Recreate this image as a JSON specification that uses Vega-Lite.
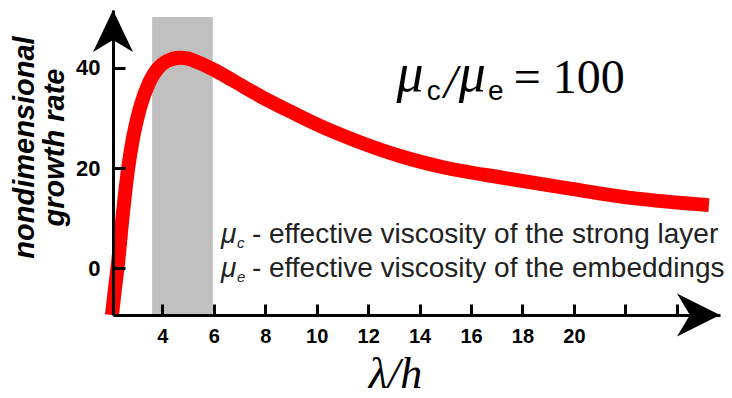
{
  "$schema": "https://vega.github.io/schema/vega-lite/v6.json",
  "width": 607,
  "height": 305,
  "autosize": {"type": "none"},
  "padding": {"left": 113, "top": 10, "right": 12, "bottom": 83},
  "background": "white",
  "config": {"view": {"stroke": null}},
  "datasets": {
    "curve": [
      {"lambda": 2.04, "rate": -9.3},
      {"lambda": 2.15, "rate": -4.3},
      {"lambda": 2.26, "rate": 0.3},
      {"lambda": 2.45, "rate": 10.2},
      {"lambda": 2.67, "rate": 20.0},
      {"lambda": 2.87, "rate": 26.3},
      {"lambda": 3.13, "rate": 32.0},
      {"lambda": 3.5, "rate": 37.2},
      {"lambda": 3.8, "rate": 39.7},
      {"lambda": 4.17, "rate": 41.3},
      {"lambda": 4.68, "rate": 42.0},
      {"lambda": 5.0, "rate": 41.8},
      {"lambda": 5.46, "rate": 40.9},
      {"lambda": 6.0, "rate": 39.6},
      {"lambda": 6.76, "rate": 37.4},
      {"lambda": 8.06, "rate": 33.6},
      {"lambda": 9.0, "rate": 31.2},
      {"lambda": 10.26, "rate": 28.1},
      {"lambda": 11.55, "rate": 25.4},
      {"lambda": 13.24, "rate": 22.4},
      {"lambda": 14.79, "rate": 20.3},
      {"lambda": 17.3, "rate": 18.0},
      {"lambda": 19.72, "rate": 16.0},
      {"lambda": 22.3, "rate": 14.0},
      {"lambda": 25.25, "rate": 12.6}
    ],
    "band": [{"x0": 3.6, "x1": 5.96, "y0": -9.3, "y1": 50.1}]
  },
  "layer": [
    {
      "data": {"name": "band"},
      "mark": {"type": "rect", "color": "#c0c0c0"},
      "encoding": {
        "x": {
          "field": "x0", "type": "quantitative",
          "scale": {"domain": [2.08, 25.68], "nice": false, "zero": false},
          "axis": {
            "values": [4, 6, 8, 10, 12, 14, 16, 18, 20, 22, 24],
            "labelExpr": "datum.value > 20 ? '' : datum.label",
            "domainColor": "black", "domainWidth": 3,
            "tickColor": "black", "tickWidth": 3, "tickSize": -11,
            "labelFont": "Liberation Sans", "labelFontWeight": "bold", "labelFontSize": 20,
            "labelColor": "black", "labelPadding": 22,
            "title": "λ/h", "titleFont": "Liberation Serif", "titleFontStyle": "italic",
            "titleFontWeight": "normal", "titleFontSize": 44, "titleColor": "black",
            "titleX": 282, "titleY": 72, "titleAlign": "center", "titleBaseline": "alphabetic",
            "grid": false, "zindex": 1
          }
        },
        "x2": {"field": "x1"},
        "y": {
          "field": "y0", "type": "quantitative",
          "scale": {"domain": [-9.3, 51.5], "nice": false, "zero": false},
          "axis": {
            "values": [0, 20, 40],
            "domainColor": "black", "domainWidth": 3,
            "tickColor": "black", "tickWidth": 3, "tickSize": -12,
            "labelFont": "Liberation Sans", "labelFontWeight": "bold", "labelFontSize": 22,
            "labelColor": "black", "labelPadding": 25,
            "title": ["nondimensional", "growth rate"],
            "titleFont": "Liberation Sans", "titleFontStyle": "italic", "titleFontWeight": "bold",
            "titleFontSize": 29, "titleLineHeight": 30, "titleColor": "black",
            "titleAngle": 270, "titleX": -80, "titleY": 137,
            "titleAlign": "center", "titleBaseline": "alphabetic",
            "grid": false, "zindex": 1
          }
        },
        "y2": {"field": "y1"}
      }
    },
    {
      "data": {"name": "curve"},
      "mark": {"type": "line", "color": "#ff0000", "strokeWidth": 14, "interpolate": "monotone", "strokeCap": "butt"},
      "encoding": {
        "x": {"field": "lambda", "type": "quantitative"},
        "y": {"field": "rate", "type": "quantitative"}
      }
    },
    {
      "data": {"values": [{}]},
      "mark": {"type": "point", "shape": "M0,0 L1,2.1 L0,1.5 L-1,2.1 Z", "size": 1600, "filled": true, "color": "black", "opacity": 1, "strokeWidth": 0},
      "encoding": {
        "x": {"datum": 2.08, "type": "quantitative"},
        "y": {"datum": 51.5, "type": "quantitative"}
      }
    },
    {
      "data": {"values": [{}]},
      "mark": {"type": "point", "shape": "M0,0 L-2,-1 L-1.4,0 L-2,1 Z", "size": 1849, "filled": true, "color": "black", "opacity": 1, "strokeWidth": 0},
      "encoding": {
        "x": {"datum": 25.68, "type": "quantitative"},
        "y": {"datum": -9.3, "type": "quantitative"}
      }
    },
    {
      "data": {"values": [{}]},
      "mark": {"type": "text", "text": "μ", "font": "Liberation Serif", "fontStyle": "italic", "fontSize": 54, "align": "left", "baseline": "alphabetic", "color": "black"},
      "encoding": {"x": {"datum": 13.1, "type": "quantitative"}, "y": {"datum": 35.36, "type": "quantitative"}}
    },
    {
      "data": {"values": [{}]},
      "mark": {"type": "text", "text": "c", "font": "Liberation Sans", "fontSize": 28, "align": "left", "baseline": "alphabetic", "color": "black"},
      "encoding": {"x": {"datum": 14.28, "type": "quantitative"}, "y": {"datum": 33.56, "type": "quantitative"}}
    },
    {
      "data": {"values": [{}]},
      "mark": {"type": "text", "text": "/", "font": "Liberation Serif", "fontStyle": "italic", "fontSize": 48, "align": "left", "baseline": "alphabetic", "color": "black"},
      "encoding": {"x": {"datum": 14.95, "type": "quantitative"}, "y": {"datum": 33.96, "type": "quantitative"}}
    },
    {
      "data": {"values": [{}]},
      "mark": {"type": "text", "text": "μ", "font": "Liberation Serif", "fontStyle": "italic", "fontSize": 54, "align": "left", "baseline": "alphabetic", "color": "black"},
      "encoding": {"x": {"datum": 15.52, "type": "quantitative"}, "y": {"datum": 35.36, "type": "quantitative"}}
    },
    {
      "data": {"values": [{}]},
      "mark": {"type": "text", "text": "e", "font": "Liberation Sans", "fontSize": 28, "align": "left", "baseline": "alphabetic", "color": "black"},
      "encoding": {"x": {"datum": 16.66, "type": "quantitative"}, "y": {"datum": 33.56, "type": "quantitative"}}
    },
    {
      "data": {"values": [{}]},
      "mark": {"type": "text", "text": "= 100", "font": "Liberation Serif", "fontSize": 48, "align": "left", "baseline": "alphabetic", "color": "black"},
      "encoding": {"x": {"datum": 17.66, "type": "quantitative"}, "y": {"datum": 34.96, "type": "quantitative"}}
    },
    {
      "data": {"values": [{}]},
      "mark": {"type": "text", "text": "μ", "font": "Liberation Sans", "fontStyle": "italic", "fontSize": 28, "align": "left", "baseline": "alphabetic", "color": "#222222"},
      "encoding": {"x": {"datum": 6.28, "type": "quantitative"}, "y": {"datum": 5.05, "type": "quantitative"}}
    },
    {
      "data": {"values": [{}]},
      "mark": {"type": "text", "text": "c", "font": "Liberation Sans", "fontStyle": "italic", "fontSize": 15, "align": "left", "baseline": "alphabetic", "color": "#222222"},
      "encoding": {"x": {"datum": 6.9, "type": "quantitative"}, "y": {"datum": 4.06, "type": "quantitative"}}
    },
    {
      "data": {"values": [{}]},
      "mark": {"type": "text", "text": "- effective viscosity of the strong layer", "font": "Liberation Sans", "fontSize": 28, "align": "left", "baseline": "alphabetic", "color": "#222222"},
      "encoding": {"x": {"datum": 7.48, "type": "quantitative"}, "y": {"datum": 5.05, "type": "quantitative"}}
    },
    {
      "data": {"values": [{}]},
      "mark": {"type": "text", "text": "μ", "font": "Liberation Sans", "fontStyle": "italic", "fontSize": 28, "align": "left", "baseline": "alphabetic", "color": "#222222"},
      "encoding": {"x": {"datum": 6.28, "type": "quantitative"}, "y": {"datum": -1.72, "type": "quantitative"}}
    },
    {
      "data": {"values": [{}]},
      "mark": {"type": "text", "text": "e", "font": "Liberation Sans", "fontStyle": "italic", "fontSize": 15, "align": "left", "baseline": "alphabetic", "color": "#222222"},
      "encoding": {"x": {"datum": 6.9, "type": "quantitative"}, "y": {"datum": -2.72, "type": "quantitative"}}
    },
    {
      "data": {"values": [{}]},
      "mark": {"type": "text", "text": "- effective viscosity of the embeddings", "font": "Liberation Sans", "fontSize": 28, "align": "left", "baseline": "alphabetic", "color": "#222222"},
      "encoding": {"x": {"datum": 7.48, "type": "quantitative"}, "y": {"datum": -1.72, "type": "quantitative"}}
    }
  ]
}
